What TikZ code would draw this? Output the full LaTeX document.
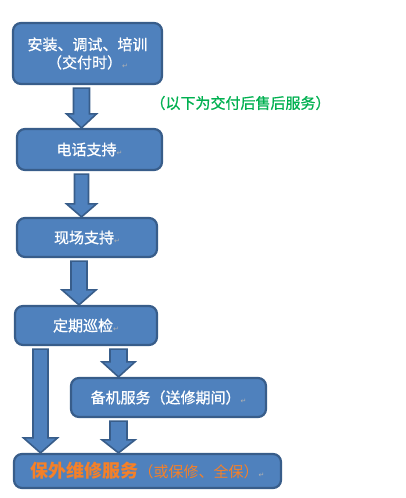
\documentclass[tikz,border=0pt]{standalone}
\usepackage{fontspec}
\setmainfont{Noto Sans CJK SC}
\newfontfamily\heavyfont[FakeBold=0.9]{Noto Sans CJK SC}
\newfontfamily\markfont{DejaVu Sans}
\usetikzlibrary{calc}

\definecolor{boxblue}{HTML}{4F81BD}
\definecolor{boxedge}{HTML}{385D8A}
\definecolor{notegreen}{HTML}{00B050}
\definecolor{repairorange}{RGB}{245,128,40}

% small grey paragraph mark
\newcommand{\retmark}{{\markfont\fontsize{7pt}{7pt}\selectfont\textcolor{gray!60}{↵}}}

% block arrow: from node, to node, x centre, shaft half width, head half width, head length
\newcommand{\blockarrow}[6]{%
	\draw[arrowbody] let \p1=(#3,0), \p2=(#1.south), \p3=(#2.north) in
	(\x1-#4,\y2-3pt) -- (\x1+#4,\y2-3pt) -- (\x1+#4,\y3+#6) -- (\x1+#5,\y3+#6)
	-- (\x1,\y3) -- (\x1-#5,\y3+#6) -- (\x1-#4,\y3+#6) -- cycle;}

\begin{document}
\begin{tikzpicture}[x=1pt,y=-1pt]
		\tikzstyle{every node}=[font=\heavyfont\fontsize{15pt}{18pt}\selectfont]
		\tikzstyle{stagebox}=[draw=boxedge, fill=boxblue, line width=2.2pt, rounded corners=8pt, text=white, inner sep=0pt, align=center]
		\tikzstyle{arrowbody}=[draw=boxedge, fill=boxblue, line width=1.6pt, line join=miter]
		
		\useasboundingbox (0,0) rectangle (405,498);
		
		\node [stagebox, minimum width=149pt, minimum height=61pt] (install) at (87.5,53.5) {安装、调试、培训\\（交付时）\retmark};
		\node [stagebox, minimum width=145pt, minimum height=41pt] (phone) at (89.5,149.5) {电话支持\retmark};
		\node [stagebox, minimum width=140pt, minimum height=39pt] (onsite) at (87,237.5) {现场支持\retmark};
		\node [stagebox, minimum width=142pt, minimum height=39pt] (inspect) at (86,325.5) {定期巡检\retmark};
		\node [stagebox, minimum width=195pt, minimum height=39pt] (standby) at (168.5,397.5) {备机服务（送修期间）\retmark};
		\node [stagebox, minimum width=267pt, minimum height=34pt] (repair) at (147.5,471) {\textcolor{repairorange}{\rmfamily\fontsize{18pt}{18pt}\selectfont\bfseries 保外维修服务}\textcolor{repairorange}{\rmfamily（或保修、全保）}\retmark};
		
		\node [text=notegreen] (aftersales) at (240.5,103) {（以下为交付后售后服务）};
		
		\blockarrow{install}{phone}{81.5}{8pt}{15pt}{14pt}
		\blockarrow{phone}{onsite}{81.5}{7pt}{15pt}{13pt}
		\blockarrow{onsite}{inspect}{79}{8pt}{17pt}{15pt}
		\blockarrow{inspect}{repair}{40.5}{7.5pt}{17pt}{15pt}
		\blockarrow{inspect}{standby}{118.5}{8.5pt}{16.5pt}{15pt}
		\blockarrow{standby}{repair}{118.5}{8.5pt}{16.5pt}{13pt}
		
	\end{tikzpicture}
\end{document}
